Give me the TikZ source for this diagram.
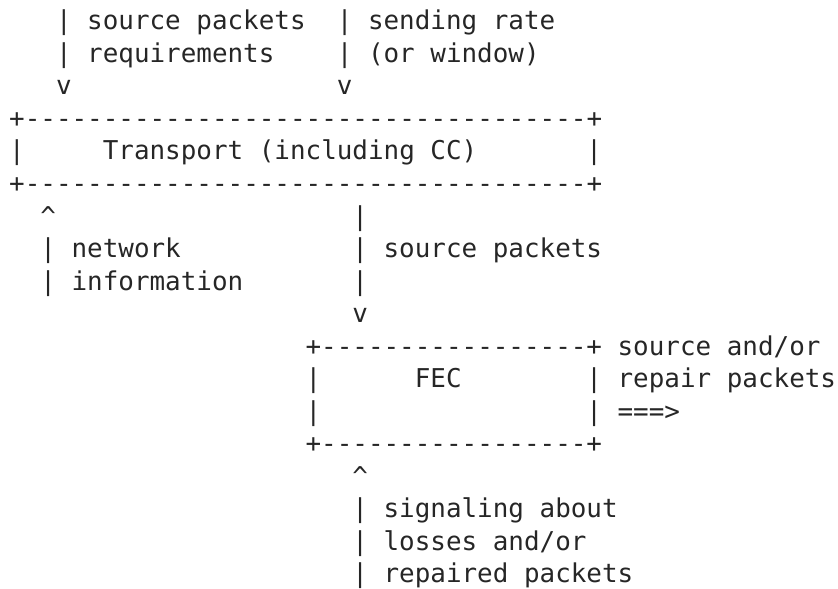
\documentclass[tikz,border=0pt]{standalone}
\usepackage{fontspec}
\setmonofont{DejaVu Sans Mono}
\definecolor{ink}{rgb}{0.15,0.15,0.15}
\tikzset{asc/.style={inner sep=0pt, outer sep=0pt, anchor=base west, text=ink, font=\ttfamily\fontsize{12.96pt}{16pt}\selectfont}}
\newcommand\asc[4]{\node[asc] (#3) at ({4.6pt+#1*7.8pt},{-15pt-#2*16.25pt}) {#4};}
\begin{document}
\begin{tikzpicture}
\useasboundingbox (0,0) rectangle (419pt,-294pt);
\asc{3}{0}{a1}{|}
\asc{5}{0}{a2}{source packets}
\asc{21}{0}{a3}{|}
\asc{23}{0}{a4}{sending rate}
\asc{3}{1}{b1}{|}
\asc{5}{1}{b2}{requirements}
\asc{21}{1}{b3}{|}
\asc{23}{1}{b4}{(or window)}
\asc{3}{2}{c1}{v}
\asc{21}{2}{c2}{v}
\asc{0}{3}{d1}{+------------------------------------+}
\asc{0}{4}{e1}{|}
\asc{6}{4}{e2}{Transport (including CC)}
\asc{37}{4}{e3}{|}
\asc{0}{5}{f1}{+------------------------------------+}
\asc{2}{6}{g1}{\^{}}
\asc{22}{6}{g2}{|}
\asc{2}{7}{h1}{|}
\asc{4}{7}{h2}{network}
\asc{22}{7}{h3}{|}
\asc{24}{7}{h4}{source packets}
\asc{2}{8}{i1}{|}
\asc{4}{8}{i2}{information}
\asc{22}{8}{i3}{|}
\asc{22}{9}{j1}{v}
\asc{19}{10}{k1}{+-----------------+}
\asc{39}{10}{k2}{source and/or}
\asc{19}{11}{l1}{|}
\asc{26}{11}{l2}{FEC}
\asc{37}{11}{l3}{|}
\asc{39}{11}{l4}{repair packets}
\asc{19}{12}{m1}{|}
\asc{37}{12}{m2}{|}
\asc{39}{12}{m3}{===>}
\asc{19}{13}{n1}{+-----------------+}
\asc{22}{14}{o1}{\^{}}
\asc{22}{15}{p1}{|}
\asc{24}{15}{p2}{signaling about}
\asc{22}{16}{q1}{|}
\asc{24}{16}{q2}{losses and/or}
\asc{22}{17}{r1}{|}
\asc{24}{17}{r2}{repaired packets}
\end{tikzpicture}
\end{document}
